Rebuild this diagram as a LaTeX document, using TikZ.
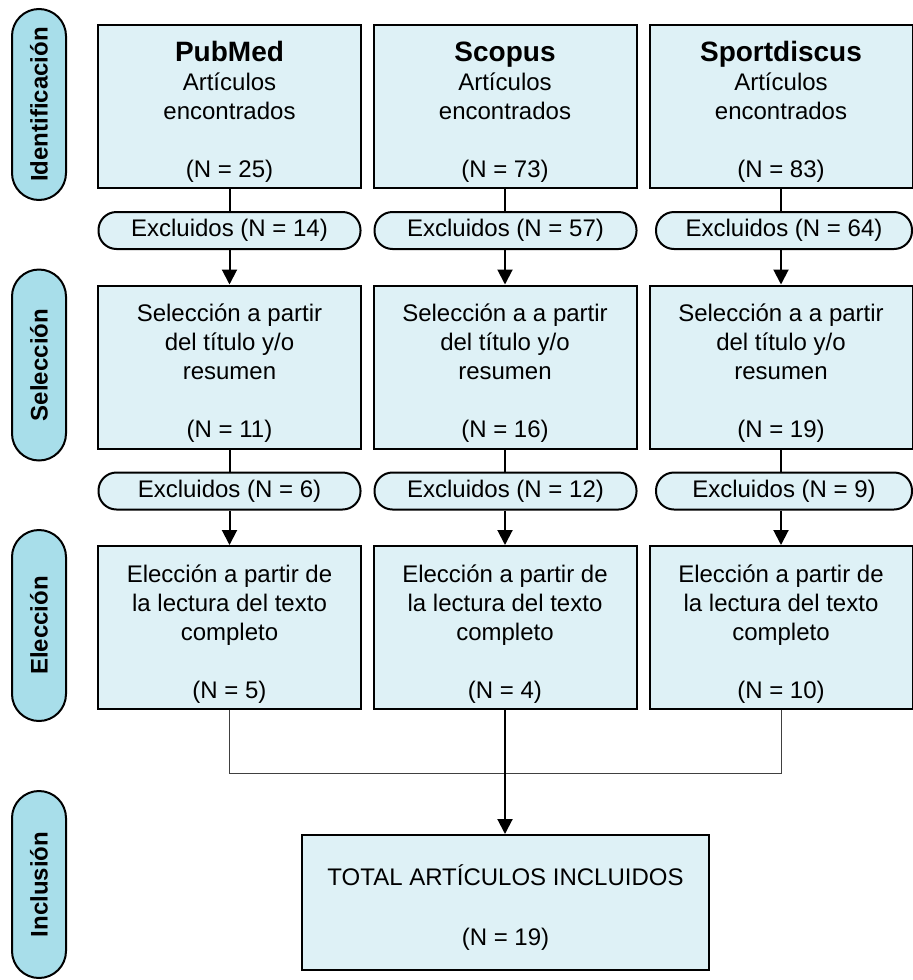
\documentclass[tikz,border=0pt]{standalone}
\usepackage{fontspec}
\setmainfont{Liberation Sans}
\usetikzlibrary{arrows.meta}
\definecolor{cajafondo}{RGB}{222,241,246}
\definecolor{fasefondo}{RGB}{168,222,234}
\newcommand{\alto}{\rule{0pt}{15pt}}

\begin{document}
\begin{tikzpicture}[x=0.5pt, y=-0.5pt,
		caja/.style={draw, line width=1pt, fill=cajafondo, align=center, inner sep=0pt,
			minimum width=131.5pt, minimum height=81.5pt, font=\fontsize{12}{14.5}\selectfont},
		excl/.style={draw, line width=1pt, fill=cajafondo, rounded corners=9pt, inner sep=0pt,
			minimum width=131pt, minimum height=18.5pt, font=\fontsize{12}{14}\selectfont},
		fase/.style={draw, line width=1pt, fill=fasefondo, rounded corners=13.5pt, rotate=90, inner sep=0pt,
			minimum width=95.5pt, minimum height=27pt, font=\fontsize{12}{14}\selectfont\bfseries},
		linea/.style={line width=1pt},
		flecha/.style={line width=1pt, -{Triangle[width=7.5pt,length=7.5pt]}},
		union/.style={line width=0.5pt, black!75}]
		\useasboundingbox (0,0) rectangle (913,980);

		% fases
		\node [fase] (f1) at ( 39, 104.5 ) {Identificación};
		\node [fase] (f2) at ( 39, 365 ) {Selección};
		\node [fase] (f3) at ( 39, 625.5 ) {Elección};
		\node [fase, minimum width=93.5pt] (f4) at ( 39, 884.5 ) {Inclusión};

		% PubMed
		\node [caja] (id1) at ( 229.5, 106.5 ) {\alto{\fontsize{14}{14}\selectfont\bfseries PubMed}\\Artículos\\encontrados\\[14.5pt](N = 25)};
		\node [excl] (ex1) at ( 229.5, 230.5 ) {Excluidos (N = 14)};
		\node [caja] (se1) at ( 229.5, 367 ) {\alto Selección a partir\\del título y/o\\resumen\\[14.5pt](N = 11)};
		\node [excl] (ey1) at ( 229.5, 491 ) {Excluidos (N = 6)};
		\node [caja] (el1) at ( 229.5, 627.5 ) {\alto Elección a partir de\\la lectura del texto\\completo\\[14.5pt](N = 5)};
		\draw [linea] (id1.south) -- (ex1.north);
		\draw [flecha] (ex1.south) -- (se1.north);
		\draw [linea] (se1.south) -- (ey1.north);
		\draw [flecha] (ey1.south) -- (el1.north);

		% Scopus
		\node [caja] (id2) at ( 505, 106.5 ) {\alto{\fontsize{14}{14}\selectfont\bfseries Scopus}\\Artículos\\encontrados\\[14.5pt](N = 73)};
		\node [excl] (ex2) at ( 505.5, 230.5 ) {Excluidos (N = 57)};
		\node [caja] (se2) at ( 505, 367 ) {\alto Selección a a partir\\del título y/o\\resumen\\[14.5pt](N = 16)};
		\node [excl] (ey2) at ( 505.5, 491 ) {Excluidos (N = 12)};
		\node [caja] (el2) at ( 505, 627.5 ) {\alto Elección a partir de\\la lectura del texto\\completo\\[14.5pt](N = 4)};
		\draw [linea] (id2.south) -- (id2.south |- ex2.north);
		\draw [flecha] (id2.south |- ex2.south) -- (se2.north);
		\draw [linea] (se2.south) -- (se2.south |- ey2.north);
		\draw [flecha] (se2.south |- ey2.south) -- (el2.north);

		% Sportdiscus
		\node [caja] (id3) at ( 781, 106.5 ) {\alto{\fontsize{14}{14}\selectfont\bfseries Sportdiscus}\\Artículos\\encontrados\\[14.5pt](N = 83)};
		\node [excl, minimum width=128pt] (ex3) at ( 784, 230.5 ) {Excluidos (N = 64)};
		\node [caja] (se3) at ( 781, 367 ) {\alto Selección a a partir\\del título y/o\\resumen\\[14.5pt](N = 19)};
		\node [excl, minimum width=128pt] (ey3) at ( 784, 491 ) {Excluidos (N = 9)};
		\node [caja] (el3) at ( 781, 627.5 ) {\alto Elección a partir de\\la lectura del texto\\completo\\[14.5pt](N = 10)};
		\draw [linea] (id3.south) -- (id3.south |- ex3.north);
		\draw [flecha] (id3.south |- ex3.south) -- (se3.north);
		\draw [linea] (se3.south) -- (se3.south |- ey3.north);
		\draw [flecha] (se3.south |- ey3.south) -- (el3.north);

		% total
		\node [caja, minimum width=203.5pt, minimum height=67.5pt] (tot) at ( 505.5, 902.5 ) {\alto TOTAL ARTÍCULOS INCLUIDOS\\[15.5pt](N = 19)};
		\coordinate (junta) at ( 505, 773 );
		\draw [union] (el1.south) |- (junta) -| (el3.south);
		\draw [flecha] (el2.south) -- (el2.south |- tot.north);
	\end{tikzpicture}
\end{document}
